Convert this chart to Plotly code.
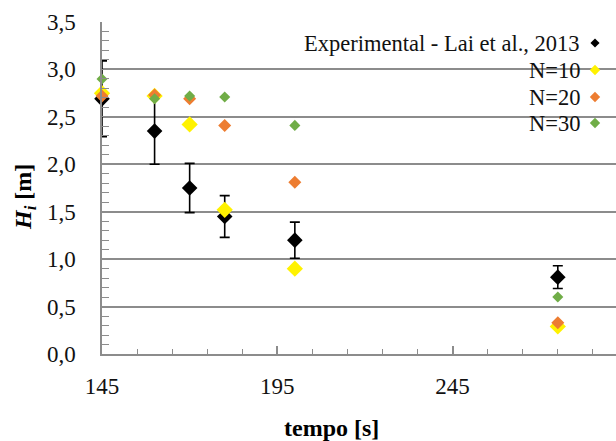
import plotly.graph_objects as go

# Time instants [s]
tempo = [145, 160, 170, 180, 200, 275]

# Experimental heights (Lai et al., 2013) and their uncertainty
exp_h = [2.69, 2.35, 1.75, 1.45, 1.20, 0.81]
exp_err = [0.40, 0.35, 0.26, 0.22, 0.19, 0.12]

# Simulated heights for different N
n10_h = [2.75, 2.72, 2.42, 1.52, 0.90, 0.29]
n20_h = [2.72, 2.73, 2.69, 2.41, 1.81, 0.33]
n30_h = [2.90, 2.69, 2.72, 2.71, 2.41, 0.60]

legend_labels = ["Experimental - Lai et al., 2013", "N=10", "N=20", "N=30"]
colors = ["#000000", "#FFF200", "#ED7D31", "#70AD47"]

FONT = "Liberation Serif"
GRID = "#8c8c8c"
TXT = "#111111"

W, H = 616, 441
ML, MR, MT, MB = 102, 0, 22, 87

fig = go.Figure()

# Error bars (clipped at the plot edge), then the experimental markers
fig.add_trace(go.Scatter(
    x=tempo, y=exp_h, mode="markers",
    marker=dict(symbol="diamond", size=1, color=colors[0], opacity=0),
    error_y=dict(type="data", array=exp_err, visible=True,
                 color="#000000", thickness=1.6, width=5),
    cliponaxis=True, showlegend=False, hoverinfo="skip"))
fig.add_trace(go.Scatter(
    x=tempo, y=exp_h, mode="markers",
    marker=dict(symbol="diamond", size=12, color=colors[0]),
    cliponaxis=False, showlegend=False, hoverinfo="skip"))

for vals, col, sz in [(n10_h, colors[1], 12.5), (n20_h, colors[2], 10), (n30_h, colors[3], 8.5)]:
    fig.add_trace(go.Scatter(
        x=tempo, y=vals, mode="markers",
        marker=dict(symbol="diamond", size=sz, color=col),
        cliponaxis=False, showlegend=False, hoverinfo="skip"))

# Hand-made legend: text on the left, symbol on the right
plot_w = W - ML - MR
plot_h = H - MT - MB
leg_rows_px = [43, 70, 97, 123]
sym_x_px = 595
text_right_px = 582
leg_sizes = [7, 8, 8, 8]

def px_to_paper_x(px):
    return (px - ML) / plot_w

def px_to_paper_y(py):
    return (H - MB - py) / plot_h

for lab, col, ypx, sz in zip(legend_labels, colors, leg_rows_px, leg_sizes):
    fig.add_annotation(
        x=px_to_paper_x(text_right_px), y=px_to_paper_y(ypx),
        xref="paper", yref="paper", xanchor="right", yanchor="middle",
        text=lab, showarrow=False,
        font=dict(family=FONT, size=22.5, color=TXT))
    fig.add_trace(go.Scatter(
        x=[px_to_paper_x(sym_x_px)], y=[px_to_paper_y(ypx)],
        xaxis="x2", yaxis="y2", mode="markers",
        marker=dict(symbol="diamond", size=sz, color=col),
        cliponaxis=False, showlegend=False, hoverinfo="skip"))

# Axis titles
fig.add_annotation(
    x=px_to_paper_x(331), y=px_to_paper_y(428), xref="paper", yref="paper",
    text="<b>tempo [s]</b>", showarrow=False, xanchor="center", yanchor="middle",
    font=dict(family=FONT, size=24, color="#000000"))
fig.add_annotation(
    x=px_to_paper_x(25), y=px_to_paper_y(197), xref="paper", yref="paper",
    text="<b><i>H</i><sub><i>i</i></sub> [m]</b>", showarrow=False, textangle=-90,
    xanchor="center", yanchor="middle",
    font=dict(family=FONT, size=24, color="#000000"))

fig.update_layout(
    width=W, height=H,
    margin=dict(l=ML, r=MR, t=MT, b=MB, pad=0),
    paper_bgcolor="white", plot_bgcolor="white",
    separators=",.",
    font=dict(family=FONT, size=23, color=TXT),
    xaxis=dict(
        range=[145, 291.6], tick0=145, dtick=50, tickmode="linear",
        showgrid=False, zeroline=False,
        showline=True, linecolor=GRID, linewidth=1.5,
        ticks="inside", ticklen=8, tickcolor=GRID, tickwidth=1.5,
        ticklabelstandoff=11,
        minor=dict(dtick=10, tick0=145, ticks="inside", ticklen=5,
                   tickcolor=GRID, tickwidth=1.2, showgrid=False),
        tickfont=dict(family=FONT, size=23, color=TXT)),
    yaxis=dict(
        range=[0, 3.5], dtick=0.5, tick0=0, tickmode="linear", tickformat=".1f",
        showgrid=True, gridcolor=GRID, gridwidth=1.5, zeroline=False,
        showline=True, linecolor=GRID, linewidth=1.5,
        ticks="inside", ticklen=7, tickcolor=GRID, tickwidth=1.2,
        ticklabelstandoff=20,
        minor=dict(dtick=0.1, ticks="inside", ticklen=7,
                   tickcolor=GRID, tickwidth=1.2, showgrid=False),
        tickfont=dict(family=FONT, size=23, color=TXT)),
    xaxis2=dict(overlaying="x", range=[0, 1], visible=False, fixedrange=True),
    yaxis2=dict(overlaying="y", range=[0, 1], visible=False, fixedrange=True),
)

fig.write_html("out.html")
